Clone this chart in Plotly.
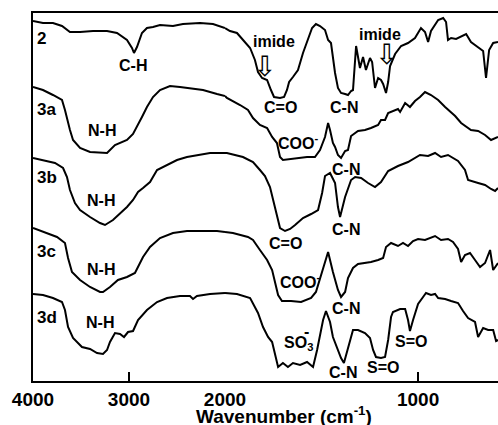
import plotly.graph_objects as go

# ---- data: wavenumber (cm-1) and offset transmittance (a.u.) ----
wn_2 = [4000, 3896, 3792, 3698, 3615, 3510, 3375, 3229, 3125, 3021, 2969, 2948, 2917, 2865, 2813, 2750,
        2677, 2542, 2438, 2260, 2125, 2000, 1974, 1938, 1907, 1870, 1845, 1829, 1808, 1782, 1762, 1746,
        1715, 1694, 1679, 1668, 1648, 1622, 1596, 1570, 1549, 1529, 1508, 1482, 1466, 1451, 1441, 1430,
        1415, 1399, 1378, 1363, 1347, 1337, 1321, 1301, 1285, 1270, 1249, 1238, 1223, 1207, 1192, 1181,
        1166, 1155, 1145, 1119, 1088, 1052, 1016, 1000, 985, 964, 948, 933, 896, 870, 855, 845, 829, 803,
        767, 751, 726, 689, 663, 648, 632, 611, 586]
t_2 = [360, 358, 358, 355, 349, 349, 350, 350, 348, 341, 333, 328, 334, 348, 353, 354,
       356, 355, 357, 358, 357, 353, 350, 348, 341, 333, 321, 309, 303, 301, 291, 284,
       283, 284, 291, 299, 304, 311, 328, 341, 353, 357, 355, 351, 341, 338, 324, 308,
       293, 288, 287, 286, 290, 291, 335, 313, 324, 311, 323, 319, 293, 303, 301, 297,
       288, 299, 315, 327, 335, 338, 343, 349, 353, 349, 339, 350, 361, 363, 359, 341, 343, 342,
       345, 347, 339, 334, 330, 303, 331, 338, 339]

wn_3a = [4000, 3896, 3792, 3698, 3667, 3635, 3615, 3583, 3510, 3406, 3302, 3229, 3146, 3021, 2958, 2917,
         2865, 2813, 2750, 2677, 2573, 2469, 2365, 2229, 2083, 2000, 1990, 1922, 1881, 1855, 1819, 1782,
         1756, 1731, 1715, 1700, 1663, 1627, 1575, 1534, 1508, 1482, 1466, 1456, 1441, 1430, 1415, 1399,
         1378, 1363, 1347, 1311, 1275, 1244, 1207, 1192, 1171, 1155, 1130, 1104, 1093, 1067, 1042, 1016,
         990, 964, 933, 896, 860, 808, 777, 757, 726, 689, 653, 622, 586]
t_3a = [294, 291, 286, 281, 271, 258, 251, 241, 233, 229, 228, 228, 236, 241, 247, 254,
        264, 274, 284, 291, 295, 294, 293, 291, 287, 285, 283, 276, 271, 263, 256, 253,
        244, 238, 224, 221, 222, 223, 224, 224, 231, 244, 258, 251, 238, 234, 226, 223,
        230, 231, 245, 250, 251, 253, 256, 261, 261, 268, 270, 272, 269, 278, 274, 280,
        284, 289, 286, 281, 274, 265, 258, 255, 251, 250, 246, 241, 244]

wn_3b = [4000, 3896, 3771, 3687, 3646, 3615, 3563, 3510, 3406, 3302, 3250, 3167, 3073, 3021, 2958, 2906,
         2854, 2781, 2708, 2604, 2500, 2396, 2260, 2156, 2000, 1990, 1907, 1855, 1819, 1793, 1767, 1751,
         1731, 1715, 1689, 1663, 1637, 1596, 1554, 1518, 1497, 1482, 1456, 1430, 1415, 1404, 1378, 1347,
         1326, 1295, 1259, 1223, 1192, 1155, 1104, 1052, 990, 948, 912, 881, 845, 793, 757, 741, 689, 653,
         622, 601, 586]
t_3b = [223, 221, 218, 213, 204, 191, 178, 171, 164, 158, 156, 161, 169, 174, 181, 189,
        193, 199, 211, 216, 221, 224, 226, 228, 228, 228, 224, 219, 211, 205, 194, 181,
        166, 153, 150, 152, 156, 163, 167, 171, 188, 205, 208, 198, 174, 164, 184, 201,
        204, 203, 198, 194, 199, 210, 215, 219, 226, 225, 228, 224, 226, 220, 211, 201, 198, 196,
        192, 190, 193]

wn_3c = [4000, 3896, 3750, 3667, 3635, 3594, 3510, 3406, 3302, 3271, 3198, 3115, 3021, 2938, 2885, 2854,
         2781, 2677, 2542, 2396, 2260, 2083, 2000, 1959, 1881, 1855, 1819, 1782, 1756, 1741, 1725, 1705,
         1658, 1606, 1554, 1529, 1508, 1487, 1466, 1441, 1415, 1399, 1378, 1363, 1337, 1311, 1275, 1244,
         1207, 1181, 1166, 1140, 1104, 1078, 1052, 1026, 1000, 964, 912, 881, 845, 819, 793, 777, 757,
         731, 705, 679, 653, 627, 611, 586]
t_3c = [153, 149, 144, 138, 123, 109, 101, 94, 89, 89, 94, 101, 104, 108, 118, 124,
        134, 143, 148, 150, 150, 150, 149, 148, 144, 141, 131, 121, 111, 98, 86, 80,
        80, 79, 83, 89, 103, 116, 129, 109, 91, 84, 89, 103, 113, 117, 118, 119,
        121, 123, 134, 138, 135, 138, 135, 140, 142, 141, 145, 141, 142, 139, 132, 119, 126,
        128, 121, 114, 118, 131, 111, 118]

wn_3d = [4000, 3896, 3792, 3698, 3667, 3635, 3583, 3490, 3406, 3333, 3271, 3229, 3198, 3146, 3094, 3052,
         3010, 2958, 2906, 2813, 2708, 2604, 2469, 2365, 2333, 2292, 2156, 2021, 2000, 1938, 1870, 1829,
         1803, 1777, 1756, 1741, 1725, 1700, 1674, 1648, 1611, 1575, 1544, 1523, 1508, 1492, 1477, 1456,
         1441, 1415, 1399, 1384, 1363, 1337, 1311, 1275, 1249, 1233, 1218, 1192, 1171, 1155, 1140, 1130,
         1093, 1067, 1052, 1042, 1026, 1000, 974, 959, 933, 912, 896, 860, 829, 793, 767, 741, 705, 689,
         663, 637, 611, 596, 586]
t_3d = [87, 86, 83, 79, 71, 54, 43, 34, 32, 28, 27, 31, 39, 48, 47, 44,
        49, 50, 61, 71, 79, 83, 85, 85, 82, 85, 87, 88, 88, 87, 83, 68,
        54, 44, 39, 26, 14, 18, 14, 18, 16, 19, 14, 31, 45, 61, 70, 59,
        44, 30, 23, 18, 34, 51, 51, 48, 43, 31, 24, 23, 24, 41, 64, 69,
        72, 72, 61, 50, 61, 77, 84, 88, 86, 87, 83, 82, 80, 78, 70, 63, 59, 44,
        53, 51, 51, 40, 41]

spectra = [("2", wn_2, t_2), ("3a", wn_3a, t_3a), ("3b", wn_3b, t_3b),
           ("3c", wn_3c, t_3c), ("3d", wn_3d, t_3d)]

tick_hi = [4000, 3000, 2000]
tick_lo = [1000]
SPLIT = 2000          # scale changes at 2000 cm-1
WN_END = 586          # right edge of the visible plot

FONT = "Liberation Sans, Arial, Helvetica, sans-serif"

fig = go.Figure()
for name, wn, t in spectra:
    hi = [(w, v) for w, v in zip(wn, t) if w >= SPLIT]
    lo = [(w, v) for w, v in zip(wn, t) if w <= SPLIT]
    for part, xa in ((hi, "x"), (lo, "x2")):
        fig.add_trace(go.Scatter(
            x=[p[0] for p in part], y=[p[1] for p in part], xaxis=xa, yaxis="y",
            mode="lines", line=dict(color="black", width=2), name=name,
            showlegend=False, hoverinfo="skip"))

# annotations: (text, axis, wavenumber, level, size, xanchor)
labels = [
    ("2", "x", 3980, 343, 17, "left"),
    ("3a", "x", 3980, 272, 17, "left"),
    ("3b", "x", 3980, 204, 17, "left"),
    ("3c", "x", 3980, 130, 17, "left"),
    ("3d", "x", 3980, 64, 17, "left"),
    ("C-H", "x", 2958, 316, 16, "center"),
    ("N-H", "x", 3281, 251, 16, "center"),
    ("N-H", "x", 3292, 181, 16, "center"),
    ("N-H", "x", 3292, 112, 16, "center"),
    ("N-H", "x", 3302, 59, 16, "center"),
    ("imide", "x2", 1746, 340, 16, "center"),
    ("imide", "x2", 1197, 347, 16, "center"),
    ("C=O", "x2", 1715, 274, 16, "center"),
    ("C-N", "x2", 1384, 274, 16, "center"),
    ("COO<sup>-</sup>", "x2", 1622, 239, 16, "center"),
    ("C-N", "x2", 1373, 212, 16, "center"),
    ("C=O", "x2", 1689, 138, 16, "center"),
    ("C-N", "x2", 1373, 152, 16, "center"),
    ("COO<sup>-</sup>", "x2", 1611, 100, 16, "center"),
    ("C-N", "x2", 1373, 73, 16, "center"),
    ("SO<sub>3</sub>", "x2", 1617, 38, 16, "center"),
    ("-", "x2", 1580, 50, 16, "center"),
    ("C-N", "x2", 1389, 9, 16, "center"),
    ("S=O", "x2", 1181, 14, 16, "center"),
    ("S=O", "x2", 1036, 40, 16, "center"),
]
for text, xa, xv, yv, size, xanc in labels:
    fig.add_annotation(text=text, x=xv, y=yv, xref=xa, yref="y", showarrow=False,
                       xanchor=xanc, yanchor="middle",
                       font=dict(family=FONT, size=size, color="black", weight="bold"))

# hollow "imide" arrows
for xv, yv in ((1793, 315), (1166, 327)):
    fig.add_annotation(text="\u21e9", x=xv, y=yv, xref="x2", yref="y", showarrow=False,
                       xanchor="center", yanchor="middle",
                       font=dict(family="DejaVu Sans", size=28, color="black"))

# axis title (centred on the full original axis span)
fig.add_annotation(text="Wavenumber (cm<sup>-1</sup>)", xref="paper", yref="paper",
                   x=0.54, y=-0.092, showarrow=False, xanchor="center", yanchor="middle",
                   font=dict(family=FONT, size=19, color="black", weight="bold"))

split_frac = (4000 - SPLIT) * 0.096 / 465.0

axis_common = dict(showgrid=False, zeroline=False, showline=True, linecolor="black",
                   linewidth=2, mirror=True, ticks="inside", ticklen=9, tickwidth=2,
                   tickcolor="black", automargin=False,
                   tickfont=dict(family=FONT, size=19, color="black", weight="bold"))

fig.update_layout(
    template="none",
    width=498, height=425, autosize=False,
    margin=dict(l=33, r=0, t=13, b=44, pad=0),
    paper_bgcolor="white", plot_bgcolor="white",
    showlegend=False,
    xaxis=dict(domain=[0, split_frac], range=[4000, SPLIT], tickvals=tick_hi,
               ticktext=[str(v) for v in tick_hi], anchor="y", **axis_common),
    xaxis2=dict(domain=[split_frac, 1], range=[SPLIT, WN_END], tickvals=tick_lo,
                ticktext=[str(v) for v in tick_lo], anchor="y", **axis_common),
    yaxis=dict(range=[0, 368], showgrid=False, zeroline=False, showline=True,
               linecolor="black", linewidth=2, showticklabels=False, ticks="",
               automargin=False),
)

fig.write_html(
    "out.html",
    config={"displayModeBar": False, "responsive": False},
    post_script="document.body.style.margin='0';"
                "document.documentElement.style.overflow='hidden';"
                "document.body.style.overflow='hidden';",
)
